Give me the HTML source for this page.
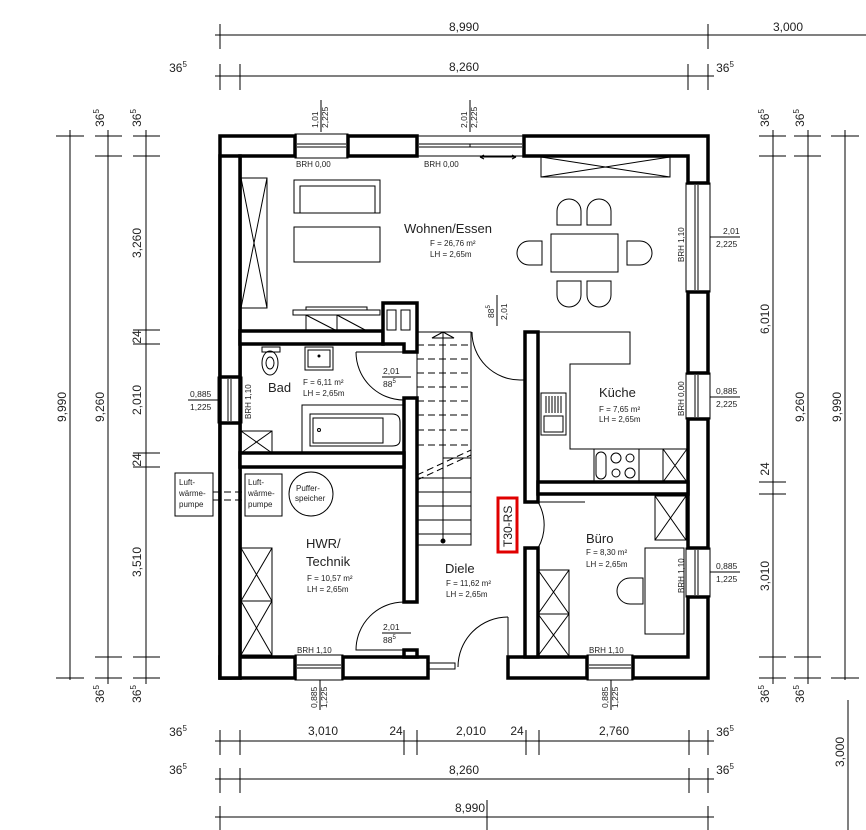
<!DOCTYPE html>
<html><head><meta charset="utf-8"><style>
html,body{margin:0;padding:0;background:#fff;}
svg{display:block;}
text{font-family:"Liberation Sans",sans-serif;fill:#222;}
.w{fill:#fff;stroke:#000;stroke-width:3.5;}
.t{fill:none;stroke:#000;stroke-width:1;}
.d{stroke:#000;stroke-width:1;fill:none;}
</style></head><body>
<svg width="866" height="830" viewBox="0 0 866 830" xmlns="http://www.w3.org/2000/svg">
<!-- ===== DIMENSIONS ===== -->
<g class="d">
<!-- top -->
<line x1="215" y1="35" x2="866" y2="35"/>
<line x1="220" y1="24" x2="220" y2="49"/><line x1="708" y1="24" x2="708" y2="49"/>
<line x1="215" y1="76" x2="714" y2="76"/>
<line x1="220" y1="64" x2="220" y2="90"/><line x1="240" y1="64" x2="240" y2="90"/>
<line x1="688" y1="64" x2="688" y2="90"/><line x1="708" y1="64" x2="708" y2="90"/>
<!-- left -->
<line x1="70" y1="130" x2="70" y2="680"/>
<line x1="56" y1="136" x2="84" y2="136"/><line x1="56" y1="678" x2="84" y2="678"/>
<line x1="108" y1="130" x2="108" y2="684"/>
<line x1="95" y1="136" x2="122" y2="136"/><line x1="95" y1="156" x2="122" y2="156"/>
<line x1="95" y1="657" x2="122" y2="657"/><line x1="95" y1="678" x2="122" y2="678"/>
<line x1="146" y1="130" x2="146" y2="684"/>
<line x1="133" y1="136" x2="160" y2="136"/><line x1="133" y1="156" x2="160" y2="156"/>
<line x1="133" y1="330" x2="160" y2="330"/><line x1="133" y1="344" x2="160" y2="344"/>
<line x1="133" y1="453" x2="160" y2="453"/><line x1="133" y1="467" x2="160" y2="467"/>
<line x1="133" y1="657" x2="160" y2="657"/><line x1="133" y1="678" x2="160" y2="678"/>
<!-- right -->
<line x1="773" y1="130" x2="773" y2="684"/>
<line x1="759" y1="136" x2="786" y2="136"/><line x1="759" y1="156" x2="786" y2="156"/>
<line x1="759" y1="482" x2="786" y2="482"/><line x1="759" y1="494" x2="786" y2="494"/>
<line x1="759" y1="657" x2="786" y2="657"/><line x1="759" y1="678" x2="786" y2="678"/>
<line x1="808" y1="130" x2="808" y2="684"/>
<line x1="794" y1="136" x2="821" y2="136"/><line x1="794" y1="156" x2="821" y2="156"/>
<line x1="794" y1="657" x2="821" y2="657"/><line x1="794" y1="678" x2="821" y2="678"/>
<line x1="845" y1="130" x2="845" y2="680"/>
<line x1="831" y1="136" x2="859" y2="136"/><line x1="831" y1="678" x2="859" y2="678"/>
<line x1="848" y1="700" x2="848" y2="830"/>
<!-- bottom -->
<line x1="215" y1="741" x2="714" y2="741"/>
<line x1="220" y1="730" x2="220" y2="755"/><line x1="240" y1="730" x2="240" y2="755"/>
<line x1="404" y1="730" x2="404" y2="755"/><line x1="417" y1="730" x2="417" y2="755"/>
<line x1="526" y1="730" x2="526" y2="755"/><line x1="539" y1="730" x2="539" y2="755"/>
<line x1="689" y1="730" x2="689" y2="755"/><line x1="708" y1="730" x2="708" y2="755"/>
<line x1="215" y1="779" x2="714" y2="779"/>
<line x1="220" y1="768" x2="220" y2="793"/><line x1="240" y1="768" x2="240" y2="793"/>
<line x1="689" y1="768" x2="689" y2="793"/><line x1="708" y1="768" x2="708" y2="793"/>
<line x1="215" y1="817" x2="714" y2="817"/>
<line x1="220" y1="806" x2="220" y2="830"/><line x1="708" y1="806" x2="708" y2="830"/>
<line x1="487" y1="800" x2="487" y2="830"/>
<!-- window dims -->
<line x1="321" y1="100" x2="321" y2="132"/><line x1="470" y1="100" x2="470" y2="132"/>
<line x1="710" y1="237" x2="740" y2="237"/>
<line x1="710" y1="397" x2="740" y2="397"/><line x1="710" y1="572" x2="740" y2="572"/>
<line x1="188" y1="400" x2="220" y2="400"/>
<line x1="320" y1="680" x2="320" y2="710"/><line x1="611" y1="680" x2="611" y2="710"/>
<line x1="382" y1="377" x2="411" y2="377"/><line x1="382" y1="633" x2="411" y2="633"/>
<line x1="497" y1="295" x2="497" y2="326"/>
</g>
<g font-size="12" text-anchor="middle">
<text x="464" y="31">8,990</text><text x="788" y="31">3,000</text>
<text x="464" y="71">8,260</text>
<text x="178" y="72">36<tspan font-size="8" dy="-5">5</tspan></text>
<text x="725" y="72">36<tspan font-size="8" dy="-5">5</tspan></text>
<text x="323" y="735">3,010</text><text x="396" y="735">24</text>
<text x="471" y="735">2,010</text><text x="517" y="735">24</text>
<text x="614" y="735">2,760</text>
<text x="178" y="736">36<tspan font-size="8" dy="-5">5</tspan></text>
<text x="725" y="736">36<tspan font-size="8" dy="-5">5</tspan></text>
<text x="464" y="774">8,260</text>
<text x="178" y="774">36<tspan font-size="8" dy="-5">5</tspan></text>
<text x="725" y="774">36<tspan font-size="8" dy="-5">5</tspan></text>
<text x="470" y="812">8,990</text>
<g transform="translate(66,407) rotate(-90)"><text>9,990</text></g>
<g transform="translate(104,407) rotate(-90)"><text>9,260</text></g>
<g transform="translate(141,243) rotate(-90)"><text>3,260</text></g>
<g transform="translate(141,337) rotate(-90)"><text>24</text></g>
<g transform="translate(141,400) rotate(-90)"><text>2,010</text></g>
<g transform="translate(141,460) rotate(-90)"><text>24</text></g>
<g transform="translate(141,562) rotate(-90)"><text>3,510</text></g>
<g transform="translate(141,118) rotate(-90)"><text>36<tspan font-size="8" dy="-5">5</tspan></text></g>
<g transform="translate(104,118) rotate(-90)"><text>36<tspan font-size="8" dy="-5">5</tspan></text></g>
<g transform="translate(141,694) rotate(-90)"><text>36<tspan font-size="8" dy="-5">5</tspan></text></g>
<g transform="translate(104,694) rotate(-90)"><text>36<tspan font-size="8" dy="-5">5</tspan></text></g>
<g transform="translate(769,319) rotate(-90)"><text>6,010</text></g>
<g transform="translate(769,469) rotate(-90)"><text>24</text></g>
<g transform="translate(769,576) rotate(-90)"><text>3,010</text></g>
<g transform="translate(804,407) rotate(-90)"><text>9,260</text></g>
<g transform="translate(841,407) rotate(-90)"><text>9,990</text></g>
<g transform="translate(844,752) rotate(-90)"><text>3,000</text></g>
<g transform="translate(769,118) rotate(-90)"><text>36<tspan font-size="8" dy="-5">5</tspan></text></g>
<g transform="translate(804,118) rotate(-90)"><text>36<tspan font-size="8" dy="-5">5</tspan></text></g>
<g transform="translate(769,694) rotate(-90)"><text>36<tspan font-size="8" dy="-5">5</tspan></text></g>
<g transform="translate(804,694) rotate(-90)"><text>36<tspan font-size="8" dy="-5">5</tspan></text></g>
</g>
<g font-size="8.5">
<g transform="translate(318,128) rotate(-90)"><text>1,01</text></g>
<g transform="translate(328,128) rotate(-90)"><text>2,225</text></g>
<g transform="translate(467,128) rotate(-90)"><text>2,01</text></g>
<g transform="translate(477,128) rotate(-90)"><text>2,225</text></g>
<text x="723" y="234">2,01</text><text x="716" y="247">2,225</text>
<text x="716" y="394">0,885</text><text x="716" y="407">2,225</text>
<text x="716" y="569">0,885</text><text x="716" y="582">1,225</text>
<text x="190" y="397">0,885</text><text x="190" y="410">1,225</text>
<g transform="translate(317,708) rotate(-90)"><text>0,885</text></g>
<g transform="translate(327,708) rotate(-90)"><text>1,225</text></g>
<g transform="translate(608,708) rotate(-90)"><text>0,885</text></g>
<g transform="translate(618,708) rotate(-90)"><text>1,225</text></g>
<text x="383" y="374">2,01</text><text x="383" y="387">88<tspan font-size="6" dy="-4">5</tspan></text>
<text x="383" y="630">2,01</text><text x="383" y="643">88<tspan font-size="6" dy="-4">5</tspan></text>
<g transform="translate(494,318) rotate(-90)"><text>88<tspan font-size="6" dy="-4">5</tspan></text></g>
<g transform="translate(507,320) rotate(-90)"><text>2,01</text></g>
</g>

<!-- ===== WALLS ===== -->
<g class="w">
<!-- outer -->
<path d="M220,136 H295 V156 H240 V678 H220 Z" />
<rect x="348" y="136" width="69" height="20"/>
<path d="M524,136 H708 V183 H688 V156 H524 Z"/>
<rect x="688" y="292" width="20" height="81"/>
<rect x="688" y="419" width="20" height="129"/>
<path d="M688,597 H708 V678 H633 V657 H688 Z"/>
<rect x="508" y="657" width="79" height="21"/>
<rect x="343" y="657" width="85" height="21"/>
<path d="M220,657 H295 V678 H220 Z"/>
<rect x="220" y="156" width="20" height="221"/>
<rect x="220" y="423" width="20" height="255"/>
<!-- interior -->
<path d="M240,331 H383 V344 H240 Z"/>
<path d="M383,303 H417 V352 H404 V344 H383 Z"/>
<rect x="404" y="398" width="13" height="204"/>
<rect x="404" y="650" width="13" height="7"/>
<rect x="240" y="453" width="164" height="14"/>
<rect x="525" y="332" width="13" height="170"/>
<rect x="525" y="548" width="13" height="109"/>
<rect x="538" y="482" width="150" height="12"/>
</g>
<!-- chimney flues -->
<rect x="387" y="310" width="9" height="20" class="t" stroke-width="3"/>
<rect x="401" y="310" width="9" height="20" class="t" stroke-width="3"/>

<!-- ===== WINDOWS ===== -->
<g class="t">
<rect x="295" y="134" width="53" height="24"/><line x1="297" y1="144" x2="346" y2="144"/><line x1="297" y1="147" x2="346" y2="147"/>
<rect x="417" y="136" width="107" height="20"/><line x1="419" y1="144" x2="522" y2="144"/><line x1="419" y1="147" x2="522" y2="147"/><line x1="470" y1="144" x2="470" y2="147"/>
<line x1="480" y1="157" x2="516" y2="157"/><path d="M480,157 l4,-2 M480,157 l4,2 M516,157 l-4,-2 M516,157 l-4,2"/>
<rect x="686" y="183" width="24" height="109"/><line x1="695" y1="185" x2="695" y2="290"/><line x1="698" y1="185" x2="698" y2="290"/>
<rect x="686" y="373" width="24" height="46"/><line x1="695" y1="375" x2="695" y2="417"/><line x1="698" y1="375" x2="698" y2="417"/>
<rect x="686" y="548" width="24" height="49"/><line x1="695" y1="550" x2="695" y2="595"/><line x1="698" y1="550" x2="698" y2="595"/>
<rect x="218" y="377" width="24" height="46"/><line x1="228" y1="379" x2="228" y2="421"/><line x1="231" y1="379" x2="231" y2="421"/>
<rect x="295" y="655" width="48" height="25"/><line x1="297" y1="665" x2="341" y2="665"/><line x1="297" y1="668" x2="341" y2="668"/>
<rect x="587" y="655" width="46" height="25"/><line x1="589" y1="665" x2="631" y2="665"/><line x1="589" y1="668" x2="631" y2="668"/>
<rect x="428" y="663" width="27" height="6"/>
</g>

<!-- ===== FURNITURE ===== -->
<g class="t">
<rect x="241" y="178" width="26" height="130"/><path d="M241,178 L267,308 M267,178 L241,308"/>
<rect x="294" y="180" width="86" height="33"/><rect x="300" y="186" width="75" height="27"/>
<rect x="294" y="227" width="86" height="35"/>
<rect x="541" y="157" width="129" height="20"/><path d="M541,177 L670,157 M541,157 L670,177"/>
<rect x="551" y="234" width="67" height="38"/>
<path d="M557,225 V211 A12,12 0 0 1 581,211 V225 Z"/>
<path d="M587,225 V211 A12,12 0 0 1 611,211 V225 Z"/>
<path d="M557,281 V295 A12,12 0 0 0 581,295 V281 Z"/>
<path d="M587,281 V295 A12,12 0 0 0 611,295 V281 Z"/>
<path d="M542,241 H529 A12,12 0 0 0 529,265 H542 Z"/>
<path d="M627,241 H640 A12,12 0 0 1 640,265 H627 Z"/>
<rect x="293" y="310" width="87" height="5"/><rect x="306" y="307" width="61" height="3"/>
<path d="M306,315 V331 M337,315 V331 M306,315 L337,331 M337,315 L367,331"/>
<!-- stairs -->
<rect x="417" y="332" width="54" height="213"/>
<line x1="443" y1="332" x2="443" y2="541"/><circle cx="443" cy="541" r="2" fill="#000"/>
<path d="M432,338 L443,332 L454,338 Z" />
<g stroke-dasharray="7,4">
<line x1="417" y1="345" x2="471" y2="345"/><line x1="417" y1="359" x2="471" y2="359"/>
<line x1="417" y1="373" x2="471" y2="373"/><line x1="417" y1="387" x2="471" y2="387"/>
<line x1="417" y1="401" x2="471" y2="401"/><line x1="417" y1="415" x2="471" y2="415"/>
<line x1="417" y1="430" x2="471" y2="430"/><line x1="417" y1="445" x2="471" y2="445"/>
<line x1="417" y1="475" x2="471" y2="450"/><line x1="417" y1="480" x2="471" y2="455"/>
</g>
<line x1="443" y1="458" x2="471" y2="458"/>
<line x1="417" y1="478" x2="471" y2="478"/><line x1="417" y1="492" x2="471" y2="492"/>
<line x1="417" y1="506" x2="471" y2="506"/><line x1="417" y1="520" x2="471" y2="520"/>
<line x1="417" y1="534" x2="471" y2="534"/>
<!-- doors -->
<path d="M472,332 A48,48 0 0 0 520,380 H524"/>
<path d="M356,352 A48,48 0 0 0 404,400"/><line x1="356" y1="352" x2="404" y2="352"/>
<path d="M404,602 A48,48 0 0 0 356,650 H404"/>
<path d="M508,617 A50,50 0 0 0 458,667"/><line x1="508" y1="617" x2="508" y2="657"/>
<path d="M538,502 A46,46 0 0 1 538,548"/><line x1="538" y1="502" x2="585" y2="502"/>
<!-- bad -->
<rect x="262" y="347" width="18" height="5"/><ellipse cx="270" cy="363" rx="8" ry="12"/><ellipse cx="270" cy="363" rx="4" ry="6"/>
<rect x="305" y="347" width="28" height="23"/><rect x="308" y="350" width="22" height="17"/><circle cx="319" cy="356" r="1" fill="#000"/>
<rect x="302" y="405" width="102" height="48"/><path d="M310,414 H392 Q400,414 400,422 V440 Q400,446 392,446 H310 Z"/><rect x="313" y="418" width="70" height="25"/><circle cx="319" cy="430" r="1.5"/>
<rect x="241" y="431" width="31" height="22"/><path d="M241,431 L272,453 M272,431 L241,453"/>
<!-- hwr -->
<rect x="245" y="474" width="37" height="42"/>
<rect x="175" y="473" width="38" height="43"/>
<circle cx="311" cy="494" r="22"/>
<rect x="241" y="548" width="31" height="107"/><path d="M241,548 L272,601 M272,548 L241,601 M241,601 H272 M241,601 L272,655 M272,601 L241,655"/>
<!-- kueche -->
<path d="M538,332 H630 V364 H570 V449 H688"/>
<rect x="541" y="393" width="25" height="42"/><rect x="544" y="416" width="19" height="16"/>
<path d="M546,396 V413 M549,396 V413 M552,396 V413 M555,396 V413 M558,396 V413 M561,396 V413"/>
<rect x="594" y="449" width="45" height="33"/><rect x="596" y="452" width="10" height="27" rx="5"/>
<circle cx="616" cy="458" r="5"/><circle cx="630" cy="458" r="4"/><circle cx="616" cy="473" r="4"/><circle cx="630" cy="473" r="5"/>
<rect x="663" y="449" width="24" height="33"/><path d="M663,449 L687,482 M687,449 L663,482"/>
<!-- buero -->
<rect x="655" y="496" width="31" height="44"/><path d="M655,496 L686,540 M686,496 L655,540"/>
<rect x="645" y="548" width="39" height="86"/>
<path d="M643,578 H630 A13,13 0 0 0 630,604 H643 Z"/>
<rect x="538" y="570" width="31" height="86"/><path d="M538,570 L569,614 M569,570 L538,614 M538,614 H569 M538,614 L569,656 M569,614 L538,656"/>
</g>
<g stroke="#000" stroke-dasharray="7,4"><line x1="213" y1="492" x2="245" y2="492"/><line x1="213" y1="500" x2="245" y2="500"/></g>

<!-- ===== LABELS ===== -->
<g font-size="8">
<text x="296" y="167">BRH 0,00</text><text x="424" y="167">BRH 0,00</text>
<text x="297" y="653">BRH 1,10</text><text x="589" y="653">BRH 1,10</text>
<g transform="translate(684,262) rotate(-90)"><text>BRH 1,10</text></g>
<g transform="translate(684,416) rotate(-90)"><text>BRH 0,00</text></g>
<g transform="translate(684,593) rotate(-90)"><text>BRH 1,10</text></g>
<g transform="translate(251,419) rotate(-90)"><text>BRH 1,10</text></g>
<text x="248" y="485">Luft-</text><text x="248" y="496">wärme-</text><text x="248" y="507">pumpe</text>
<text x="179" y="485">Luft-</text><text x="179" y="496">wärme-</text><text x="179" y="507">pumpe</text>
<text x="296" y="491">Puffer-</text><text x="295" y="501">speicher</text>
</g>
<text x="404" y="233" font-size="13">Wohnen/Essen</text>
<text x="430" y="246" font-size="8">F = 26,76 m²</text><text x="430" y="257" font-size="8">LH = 2,65m</text>
<text x="268" y="392" font-size="13">Bad</text>
<text x="303" y="385" font-size="8">F = 6,11 m²</text><text x="303" y="396" font-size="8">LH = 2,65m</text>
<text x="599" y="397" font-size="13">Küche</text>
<text x="599" y="412" font-size="8">F = 7,65 m²</text><text x="599" y="422" font-size="8">LH = 2,65m</text>
<text x="586" y="543" font-size="13">Büro</text>
<text x="586" y="555" font-size="8">F = 8,30 m²</text><text x="586" y="567" font-size="8">LH = 2,65m</text>
<text x="306" y="548" font-size="13">HWR/</text><text x="306" y="566" font-size="13">Technik</text>
<text x="307" y="581" font-size="8">F = 10,57 m²</text><text x="307" y="592" font-size="8">LH = 2,65m</text>
<text x="445" y="573" font-size="13">Diele</text>
<text x="446" y="586" font-size="8">F = 11,62 m²</text><text x="446" y="597" font-size="8">LH = 2,65m</text>
<!-- T30-RS -->
<rect x="498" y="498" width="19" height="54" fill="#fff" stroke="#e00000" stroke-width="3"/>
<g transform="translate(512,547) rotate(-90)"><text font-size="12">T30-RS</text></g>
</svg>
</body></html>
